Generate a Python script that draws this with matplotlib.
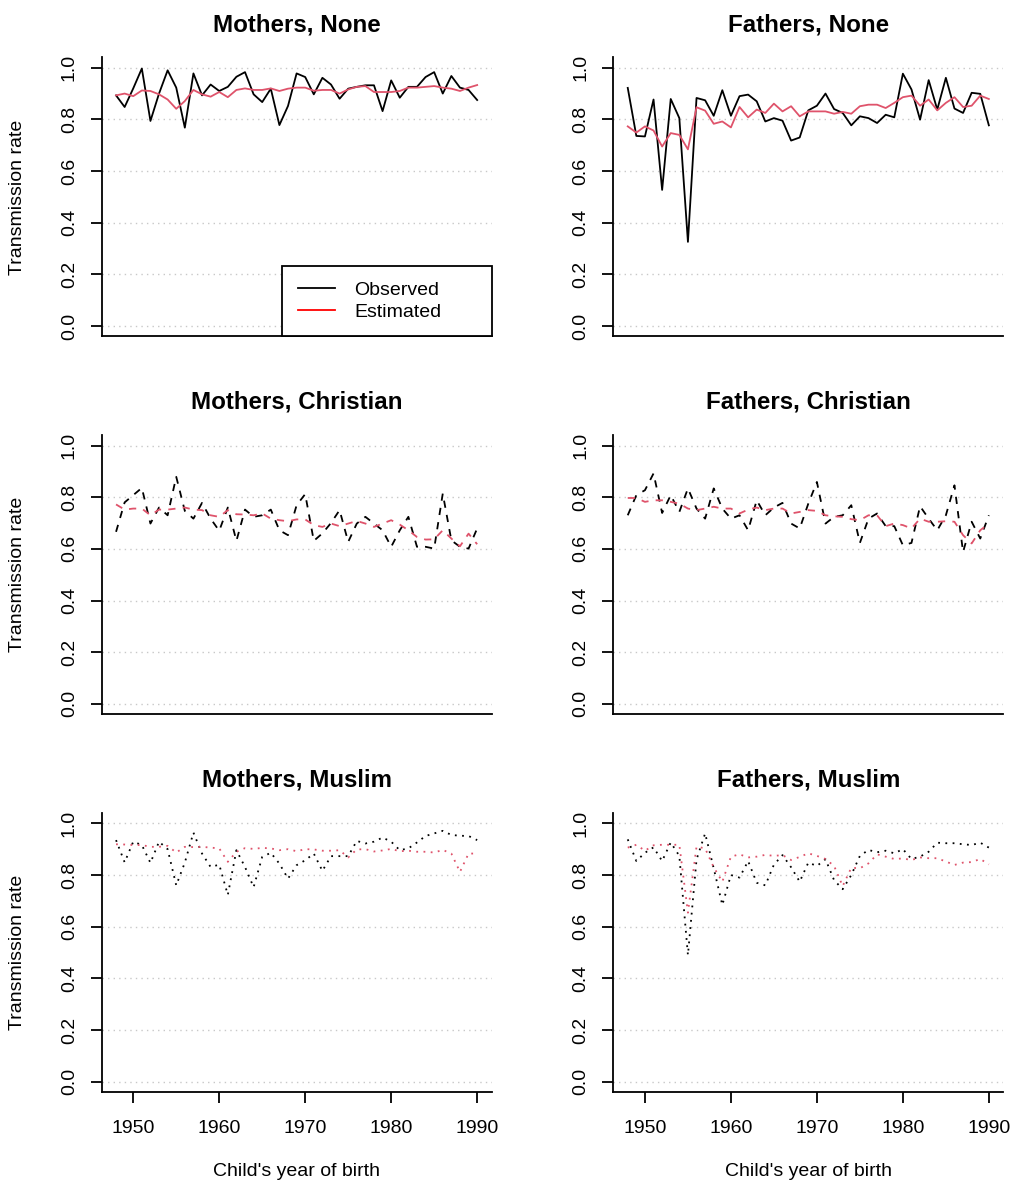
import numpy as np
import matplotlib
matplotlib.use("Agg")
import matplotlib.pyplot as plt
from matplotlib.lines import Line2D

plt.rcParams['font.family'] = ['Liberation Sans', 'DejaVu Sans']

years = list(range(1948, 1991))

# transmission rates by child's year of birth
mothers_none_obs = [0.893, 0.848, 0.92, 0.997, 0.794, 0.90, 0.99, 0.923, 0.768, 0.978,
                    0.893, 0.935, 0.91, 0.926, 0.965, 0.983, 0.897, 0.867, 0.919, 0.778,
                    0.852, 0.978, 0.964, 0.897, 0.961, 0.935, 0.88, 0.919, 0.926, 0.932,
                    0.932, 0.832, 0.951, 0.884, 0.926, 0.926, 0.964, 0.983, 0.90, 0.968,
                    0.923, 0.914, 0.875]
mothers_none_est = [0.893, 0.90, 0.89, 0.912, 0.91, 0.897, 0.877, 0.841, 0.871, 0.914,
                    0.897, 0.888, 0.906, 0.886, 0.914, 0.92, 0.914, 0.914, 0.92, 0.91,
                    0.919, 0.923, 0.923, 0.911, 0.914, 0.914, 0.90, 0.916, 0.926, 0.929,
                    0.906, 0.906, 0.906, 0.91, 0.923, 0.923, 0.926, 0.929, 0.923, 0.919,
                    0.91, 0.923, 0.933]

fathers_none_obs = [0.922, 0.736, 0.734, 0.877, 0.527, 0.879, 0.805, 0.326, 0.883, 0.874,
                    0.814, 0.913, 0.814, 0.89, 0.896, 0.87, 0.792, 0.805, 0.795, 0.718,
                    0.73, 0.835, 0.853, 0.90, 0.84, 0.825, 0.777, 0.812, 0.805, 0.786,
                    0.818, 0.808, 0.977, 0.916, 0.799, 0.952, 0.838, 0.961, 0.842, 0.825,
                    0.903, 0.899, 0.777]
fathers_none_est = [0.773, 0.749, 0.773, 0.757, 0.695, 0.747, 0.74, 0.684, 0.847, 0.834,
                    0.783, 0.792, 0.769, 0.848, 0.808, 0.838, 0.825, 0.861, 0.831, 0.851,
                    0.812, 0.831, 0.831, 0.831, 0.822, 0.829, 0.822, 0.851, 0.857, 0.857,
                    0.844, 0.864, 0.886, 0.892, 0.853, 0.877, 0.835, 0.864, 0.886, 0.848,
                    0.853, 0.892, 0.879]

mothers_chr_obs = [0.666, 0.78, 0.808, 0.836, 0.698, 0.76, 0.73, 0.879, 0.747, 0.717,
                   0.778, 0.717, 0.67, 0.76, 0.631, 0.752, 0.724, 0.73, 0.752, 0.672,
                   0.653, 0.769, 0.812, 0.631, 0.66, 0.70, 0.75, 0.627, 0.698, 0.724,
                   0.698, 0.672, 0.608, 0.672, 0.724, 0.608, 0.608, 0.601, 0.814, 0.633,
                   0.608, 0.601, 0.679]
mothers_chr_est = [0.772, 0.752, 0.756, 0.756, 0.73, 0.752, 0.752, 0.756, 0.76, 0.752,
                   0.75, 0.73, 0.724, 0.75, 0.734, 0.733, 0.73, 0.737, 0.717, 0.711,
                   0.707, 0.714, 0.714, 0.692, 0.685, 0.698, 0.688, 0.698, 0.708, 0.698,
                   0.685, 0.698, 0.711, 0.694, 0.672, 0.646, 0.636, 0.637, 0.672, 0.64,
                   0.61, 0.659, 0.618]

fathers_chr_obs = [0.73, 0.808, 0.827, 0.892, 0.739, 0.808, 0.743, 0.834, 0.756, 0.717,
                   0.834, 0.756, 0.717, 0.73, 0.672, 0.788, 0.73, 0.76, 0.778, 0.698,
                   0.679, 0.775, 0.859, 0.698, 0.724, 0.73, 0.769, 0.623, 0.717, 0.737,
                   0.688, 0.688, 0.614, 0.623, 0.765, 0.717, 0.672, 0.73, 0.846, 0.588,
                   0.705, 0.64, 0.73]
fathers_chr_est = [0.797, 0.797, 0.782, 0.788, 0.788, 0.782, 0.775, 0.756, 0.75, 0.756,
                   0.763, 0.756, 0.756, 0.737, 0.752, 0.76, 0.75, 0.756, 0.756, 0.737,
                   0.743, 0.75, 0.747, 0.73, 0.726, 0.724, 0.715, 0.711, 0.73, 0.73,
                   0.688, 0.698, 0.692, 0.679, 0.717, 0.705, 0.705, 0.707, 0.705, 0.653,
                   0.621, 0.672, 0.698]

mothers_mus_obs = [0.935, 0.849, 0.929, 0.916, 0.847, 0.929, 0.90, 0.76, 0.848, 0.964,
                   0.883, 0.831, 0.84, 0.723, 0.896, 0.831, 0.753, 0.87, 0.886, 0.844,
                   0.786, 0.838, 0.857, 0.883, 0.816, 0.873, 0.873, 0.873, 0.932, 0.922,
                   0.929, 0.945, 0.929, 0.896, 0.903, 0.926, 0.951, 0.961, 0.971, 0.955,
                   0.952, 0.951, 0.935]
mothers_mus_est = [0.919, 0.918, 0.916, 0.916, 0.909, 0.909, 0.913, 0.887, 0.909, 0.908,
                   0.909, 0.906, 0.903, 0.851, 0.89, 0.904, 0.901, 0.905, 0.903, 0.896,
                   0.90, 0.892, 0.90, 0.899, 0.894, 0.894, 0.896, 0.868, 0.899, 0.90,
                   0.891, 0.895, 0.901, 0.892, 0.894, 0.89, 0.89, 0.887, 0.897, 0.883,
                   0.812, 0.883, 0.883]

fathers_mus_obs = [0.938, 0.854, 0.886, 0.907, 0.854, 0.926, 0.874, 0.49, 0.86, 0.961,
                   0.826, 0.684, 0.80, 0.79, 0.854, 0.77, 0.76, 0.84, 0.877, 0.83,
                   0.774, 0.848, 0.835, 0.861, 0.78, 0.745, 0.80, 0.874, 0.897, 0.888,
                   0.894, 0.884, 0.90, 0.862, 0.871, 0.89, 0.925, 0.923, 0.923, 0.919,
                   0.916, 0.925, 0.906]
fathers_mus_est = [0.906, 0.917, 0.894, 0.915, 0.917, 0.917, 0.917, 0.654, 0.91, 0.903,
                   0.83, 0.774, 0.871, 0.88, 0.868, 0.871, 0.878, 0.874, 0.877, 0.858,
                   0.87, 0.884, 0.874, 0.862, 0.835, 0.757, 0.828, 0.826, 0.845, 0.88,
                   0.871, 0.862, 0.864, 0.858, 0.868, 0.865, 0.865, 0.852, 0.839, 0.848,
                   0.85, 0.862, 0.841]

titles = [["Mothers, None", "Fathers, None"],
          ["Mothers, Christian", "Fathers, Christian"],
          ["Mothers, Muslim", "Fathers, Muslim"]]
series = [[(mothers_none_obs, mothers_none_est), (fathers_none_obs, fathers_none_est)],
          [(mothers_chr_obs, mothers_chr_est), (fathers_chr_obs, fathers_chr_est)],
          [(mothers_mus_obs, mothers_mus_est), (fathers_mus_obs, fathers_mus_est)]]
row_styles = ['-', (0, (4, 4)), (0, (1, 3))]

y_ticks = [0.0, 0.2, 0.4, 0.6, 0.8, 1.0]
x_ticks = [1950, 1960, 1970, 1980, 1990]

RED = '#DF536B'
W, H = 1017, 1191
col_left = [101.6, 613.3]
row_top = [57.4, 435.2, 813.0]
pw, ph = 390.0, 279.0

fig = plt.figure(figsize=(W / 100, H / 100), dpi=100)


def panel(r, c):
    ax = fig.add_axes([col_left[c] / W, 1 - (row_top[r] + ph) / H, pw / W, ph / H])
    obs, est = series[r][c]
    ls = row_styles[r]
    ax.plot(years, obs, color='black', lw=1.3, linestyle=ls, dash_capstyle='butt')
    ax.plot(years, est, color=RED, lw=1.3, linestyle=ls, dash_capstyle='butt')

    ax.set_xlim(1946.32, 1991.68)
    ax.set_ylim(-0.04, 1.04)
    ax.set_yticks(y_ticks)
    ax.set_yticklabels(['%.1f' % v for v in y_ticks])
    for v in y_ticks:
        ax.axhline(v, color='#C8C8C8', lw=1.0, linestyle=(0, (1, 3)), zorder=0)

    for s in ['top', 'right']:
        ax.spines[s].set_visible(False)
    for s in ['left', 'bottom']:
        ax.spines[s].set_linewidth(1.3)

    ax.tick_params(axis='y', direction='out', length=8, width=1.3, pad=9,
                   labelsize=14, labelrotation=90)
    for lbl in ax.get_yticklabels():
        lbl.set_va('center')

    if r == 2:
        ax.set_xticks(x_ticks)
        ax.tick_params(axis='x', direction='out', length=8, width=1.3, pad=12,
                       labelsize=14)
        fig.text((col_left[c] + pw / 2) / W, 1 - 1172 / H, "Child's year of birth",
                 ha='center', va='center', fontsize=14)
    else:
        ax.set_xticks([])

    ax.set_title(titles[r][c], fontsize=17.4, fontweight='bold', pad=19)

    if c == 0:
        fig.text(18 / W, 1 - (row_top[r] + ph / 2) / H, "Transmission rate",
                 rotation=90, ha='center', va='center', fontsize=14)
    return ax


axes = [[panel(r, c) for c in range(2)] for r in range(3)]

# legend box in the first panel
handles = [Line2D([], [], color='black', lw=1.3), Line2D([], [], color='red', lw=1.3)]
leg = axes[0][0].legend(handles, ['Observed', 'Estimated'], loc='lower left',
                        bbox_to_anchor=(0.4636, 0.0, 0.5364, 0.25), mode='expand',
                        borderaxespad=0, fontsize=14, handlelength=1.9,
                        handletextpad=1.0, borderpad=0.8, labelspacing=0.22,
                        fancybox=False, framealpha=1, edgecolor='black')
leg.get_frame().set_linewidth(1.3)

fig.savefig('out.png', dpi=100)
